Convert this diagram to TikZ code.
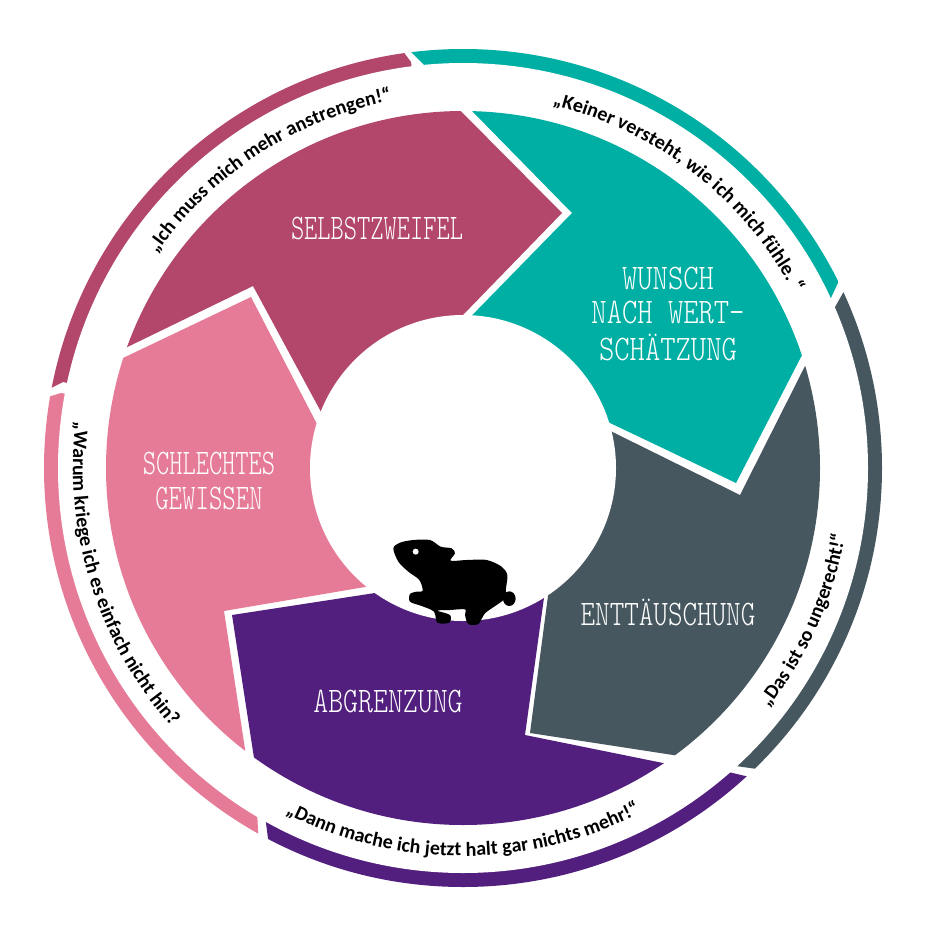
\documentclass[tikz,border=0pt]{standalone}
\usepackage{fontspec}
\usepackage{graphicx}
\usetikzlibrary{decorations.text}
\newfontfamily\quotefont{Carlito}[BoldFont={Carlito Bold}]
\definecolor{crim}{HTML}{B2466B}
\definecolor{teal2}{HTML}{00AFA3}
\definecolor{slate}{HTML}{47575F}
\definecolor{rose}{HTML}{E67B98}
\definecolor{plum}{HTML}{521F7E}
\newcommand{\labfont}{\fontsize{36}{36}\selectfont\fontseries{l}\ttfamily}
\newcommand{\lab}[2]{\scalebox{#1}[1]{\labfont #2}}
\newcommand{\arctext}[4]{%
  \begin{scope}[shift={(463,468)}]
  \path[decorate,decoration={text along path,text align=center,
     text={|\quotefont\bfseries\fontsize{20}{20}\selectfont|#4}}]
     (#1:#3) arc[start angle=#1,end angle=#2,radius=#3];
  \end{scope}}
\tikzset{sectorlabel/.style={text=white,align=center,inner sep=0pt}}
\begin{document}
\begin{tikzpicture}[x=1pt,y=-1pt]
\useasboundingbox (0,0) rectangle (932,924);
\fill[white] (0,0) rectangle (932,924);
\coordinate (c) at (463,468);
% outer ring
\begin{scope}
\clip (c) circle[radius=419];
\fill[crim] (c)--(411,62)--(387,30)--(10,10)--(15,406)--(63,382)--cycle;
\fill[rose] (c)--(61,393)--(9,409)--(10,900)--(260,870)--(257,810)--cycle;
\fill[plum] (c)--(265,815)--(272,870)--(280,900)--(775,900)--(775,783)--(720,770)--cycle;
\fill[slate] (c)--(715,763)--(785,773)--(920,773)--(920,275)--(853,275)--(825,325)--cycle;
\fill[teal2] (c)--(430,71)--(390,31)--(390,10)--(920,10)--(920,257)--(850,257)--(823,315)--cycle;
\end{scope}
\fill[white] (c) circle[radius=405];
% sectors
\begin{scope}
\clip (c) circle[radius=357];
\fill[crim] (340,447)--(253,286)--(78,371)--(60,60)--(412,62)--(562,213)--(462,316)--(440,342)--cycle;
\fill[teal2] (446,342)--(566,402)--(736,483)--(801,357)--(831,299)--(900,299)--(900,40)--(423,40)--(423,61)--(572,213)--cycle;
\fill[slate] (570,411)--(740,495)--(804,368)--(834,308)--(900,308)--(900,800)--(740,800)--(740,765)--(673,755)--(530,733)--(557,527)--cycle;
\fill[plum] (552,540)--(525,735)--(663,763)--(733,777)--(733,900)--(264,900)--(264,822)--(254,758)--(232,615)--(375,593)--(450,581)--cycle;
\fill[rose] (345,478)--(251,297)--(123,358)--(73,382)--(20,382)--(20,832)--(258,832)--(245,749)--(224,611)--(365,587)--(430,576)--cycle;
\end{scope}
\fill[white] (c) circle[radius=153];
% guinea pig
\begin{scope}[shift={(350,520)},x=0.3333pt,y=-0.3333pt]
\fill[black] plot[smooth cycle,tension=0.5] coordinates {
 (130,85)(150,68)(190,60)(240,60)(272,80)(305,85)(315,100)(302,122)(350,120)(410,120)(455,140)(472,165)(468,205)(465,235)(440,255)(405,280)(385,312)(355,312)(345,285)(345,268)(300,270)(262,272)(300,285)(298,308)(262,308)(252,275)(215,258)(180,245)(180,222)(200,215)(218,212)(208,180)(175,155)(145,125)};
\fill[black] (478,236) ellipse[x radius=19,y radius=22];
\fill[white] (197,95) circle[radius=9];
\end{scope}
% sector labels
\node[sectorlabel] (selbst) at (377,228) {\lab{0.70}{SELBSTZWEIFEL}};
\node[sectorlabel] (wunsch1) at (668,278) {\lab{0.81}{WUNSCH}};
\node[sectorlabel] (wunsch2) at (668,312) {\lab{0.81}{NACH WERT-}};
\node[sectorlabel] (wunsch3) at (668,347) {\lab{0.81}{SCHÄTZUNG}};
\node[sectorlabel] (ent) at (668,612) {\lab{0.77}{ENTTÄUSCHUNG}};
\node[sectorlabel] (abg) at (388,701) {\lab{0.79}{ABGRENZUNG}};
\node[sectorlabel] (sch1) at (209,463) {\lab{0.70}{SCHLECHTES}};
\node[sectorlabel] (sch2) at (209,498) {\lab{0.71}{GEWISSEN}};
% quotes
\arctext{-146}{-100}{374}{„Ich muss mich mehr anstrengen!“}
\arctext{-77}{-27}{374}{„Keiner versteht, wie ich mich fühle. “}
\arctext{38}{10}{388}{„Das ist so ungerecht!“}
\arctext{117}{63}{388}{„Dann mache ich jetzt halt gar nichts mehr!“}
\arctext{186}{138}{390}{„Warum kriege ich es einfach nicht hin?“}
\end{tikzpicture}
\end{document}
